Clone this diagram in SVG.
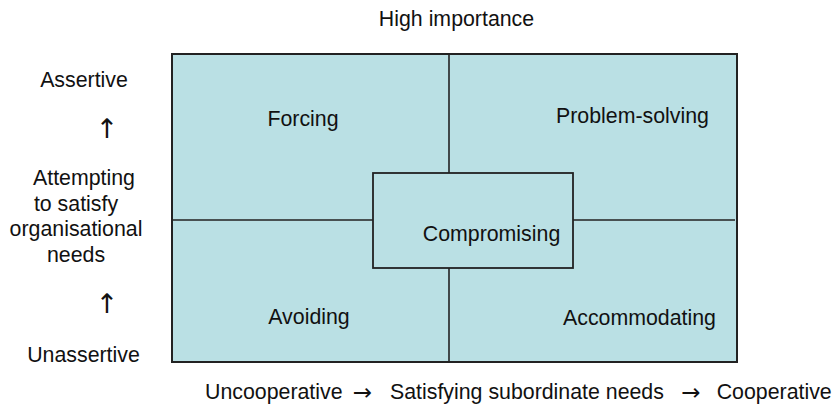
<svg xmlns="http://www.w3.org/2000/svg" width="836" height="407" viewBox="0 0 836 407">
<style>
text{font-family:"Liberation Sans",Arial,sans-serif;font-size:21.33px;fill:#111}
.c{text-anchor:middle}
.ar{font-family:"DejaVu Sans",sans-serif;font-size:27px}
.ah{font-family:"DejaVu Sans",sans-serif;font-size:23px}
.box{fill:#BAE0E4;stroke:#222;stroke-width:2}
.ln{stroke:#222;stroke-width:1.6;fill:none}
</style>
<rect width="836" height="407" fill="#fff"/>
<g id="grid">
<rect class="box" x="172" y="54" width="565" height="308"/>
</g>
<g id="dividers">
<line class="ln" x1="449" y1="54" x2="449" y2="173"/>
<line class="ln" x1="449" y1="268" x2="449" y2="362"/>
<line class="ln" x1="172" y1="220" x2="373" y2="220"/>
<line class="ln" x1="573" y1="220" x2="735" y2="220"/>
</g>
<g id="forcing"><text class="c" x="303" y="126">Forcing</text></g>
<g id="problem-solving"><text class="c" x="632.5" y="123">Problem-solving</text></g>
<g id="avoiding"><text class="c" x="309" y="324">Avoiding</text></g>
<g id="accommodating"><text class="c" x="639.5" y="325">Accommodating</text></g>
<g id="compromising">
<rect class="box" x="373" y="173" width="200" height="95" style="stroke-width:1.8"/>
<text class="c" x="491.5" y="241">Compromising</text>
</g>
<g id="top-label"><text class="c" x="456.5" y="26">High importance</text></g>
<g id="left-axis">
<text class="c" x="84" y="87">Assertive</text>
<text class="c ar" x="107" y="138">↑</text>
<text class="c" x="84" y="185">Attempting</text>
<text class="c" x="76" y="210.6">to satisfy</text>
<text class="c" x="76" y="236.2">organisational</text>
<text class="c" x="76" y="261.8">needs</text>
<text class="c ar" x="107" y="313">↑</text>
<text class="c" x="83.5" y="361.5">Unassertive</text>
</g>
<g id="bottom-axis">
<text x="205" y="399">Uncooperative</text>
<text class="c ah" x="362.5" y="399.5">→</text>
<text x="390" y="399">Satisfying subordinate needs</text>
<text class="c ah" x="691" y="399.5">→</text>
<text x="716.7" y="399">Cooperative</text>
</g>
</svg>
